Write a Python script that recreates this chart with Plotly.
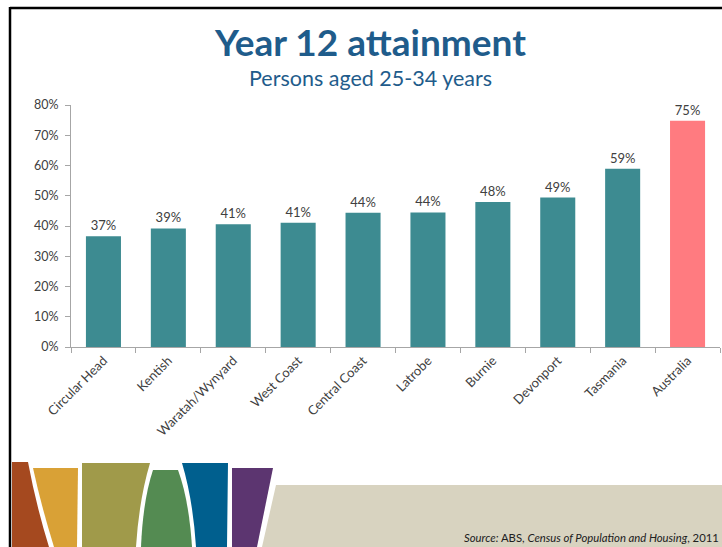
import plotly.graph_objects as go

categories = ["Circular Head", "Kentish", "Waratah/Wynyard", "West Coast", "Central Coast",
              "Latrobe", "Burnie", "Devonport", "Tasmania", "Australia"]
values = [36.6, 39.2, 40.6, 41.1, 44.4, 44.5, 47.9, 49.4, 58.9, 74.8]
labels = ["37%", "39%", "41%", "41%", "44%", "44%", "48%", "49%", "59%", "75%"]
ytick_vals = [0, 10, 20, 30, 40, 50, 60, 70, 80]
ytick_text = ["0%", "10%", "20%", "30%", "40%", "50%", "60%", "70%", "80%"]

TEAL = "#3D8B91"
PINK = "#FF7B80"
colors = [TEAL] * 9 + [PINK]

W, H = 722, 547
L, R, T, B = 71, 2, 105, 200
PW, PH = W - L - R, H - T - B

def px(x):
    return (x - L) / PW

def py(y):
    return (H - B - y) / PH

def path(pts):
    out = []
    for p in pts:
        cmd = p[0]
        nums = p[1:]
        conv = []
        for i in range(0, len(nums), 2):
            conv.append(f"{px(nums[i]):.5f},{py(nums[i+1]):.5f}")
        out.append(cmd + " " + " ".join(conv))
    return " ".join(out) + " Z"

FONT = "Lato"

fig = go.Figure()
fig.add_trace(go.Bar(
    x=categories, y=values, marker=dict(color=colors, line=dict(width=0)),
    text=labels, textposition="outside", cliponaxis=False,
    textfont=dict(family=FONT, size=13, color="#404040"),
))

shapes = []
deco = [
    ("#A5491F", [("M", 12, 462), ("L", 28, 462), ("Q", 36, 505, 49, 547), ("L", 12, 547)]),
    ("#D9A136", [("M", 33, 468), ("L", 78, 468), ("L", 77, 547), ("L", 54, 547), ("Q", 41, 505, 33, 468)]),
    ("#A09A4A", [("M", 82, 463), ("L", 150, 463), ("Q", 139, 500, 136, 547), ("L", 82, 547)]),
    ("#548B52", [("M", 153, 470), ("L", 178, 470), ("Q", 189, 500, 192, 547), ("L", 141, 547), ("Q", 143, 500, 153, 470)]),
    ("#005F8E", [("M", 182, 463), ("L", 228, 463), ("L", 227, 547), ("L", 196, 547), ("Q", 193, 500, 182, 463)]),
    ("#5C3570", [("M", 232, 468), ("L", 273, 468), ("L", 257, 547), ("L", 232, 547)]),
    ("#D8D3C0", [("M", 276, 485), ("L", 722, 485), ("L", 722, 547), ("L", 262, 547)]),
]
for col, pts in deco:
    shapes.append(dict(type="path", xref="paper", yref="paper", path=path(pts),
                       fillcolor=col, line=dict(width=0), layer="below"))
shapes.append(dict(type="line", xref="paper", yref="paper", x0=px(10), x1=px(722), y0=py(8), y1=py(8),
                   line=dict(color="black", width=2.5)))
shapes.append(dict(type="line", xref="paper", yref="paper", x0=px(10), x1=px(10), y0=py(7), y1=py(547),
                   line=dict(color="black", width=2.5)))

fig.update_layout(
    width=W, height=H,
    margin=dict(l=L, r=R, t=T, b=B),
    paper_bgcolor="white", plot_bgcolor="white",
    showlegend=False,
    bargap=0.46,
    shapes=shapes,
    font=dict(family=FONT, color="#404040"),
    annotations=[
        dict(text="<b>Year 12 attainment</b>", xref="paper", yref="paper",
             x=px(370), y=py(41), xanchor="center", yanchor="middle", showarrow=False,
             font=dict(family=FONT, size=37, color="#1F5C8B")),
        dict(text="Persons aged 25-34 years", xref="paper", yref="paper",
             x=px(370), y=py(78), xanchor="center", yanchor="middle", showarrow=False,
             font=dict(family=FONT, size=21.5, color="#1F5C8B")),
        dict(text="<i>Source:</i> ABS, <i>Census of Population and Housing</i>, 2011",
             xref="paper", yref="paper", x=px(721), y=py(537), xanchor="right", yanchor="middle",
             showarrow=False, font=dict(family=FONT, size=11.3, color="#202020")),
    ],
)
fig.update_xaxes(
    type="category", showline=True, linecolor="#A6A6A6", linewidth=1,
    ticks="outside", tickson="boundaries", ticklen=5, tickcolor="#A6A6A6",
    tickangle=-45, tickfont=dict(family=FONT, size=13, color="#404040"),
    showgrid=False, zeroline=False,
)
fig.update_yaxes(
    range=[0, 80], tickvals=ytick_vals, ticktext=ytick_text,
    showline=True, linecolor="#A6A6A6", linewidth=1,
    ticks="outside", ticklen=5, tickcolor="#A6A6A6", ticklabelstandoff=4,
    tickfont=dict(family=FONT, size=12.5, color="#404040"),
    showgrid=False, zeroline=False,
)

fig.write_html("out.html", config={"displayModeBar": False},
               post_script="document.body.style.margin='0';document.body.style.overflow='hidden';")
